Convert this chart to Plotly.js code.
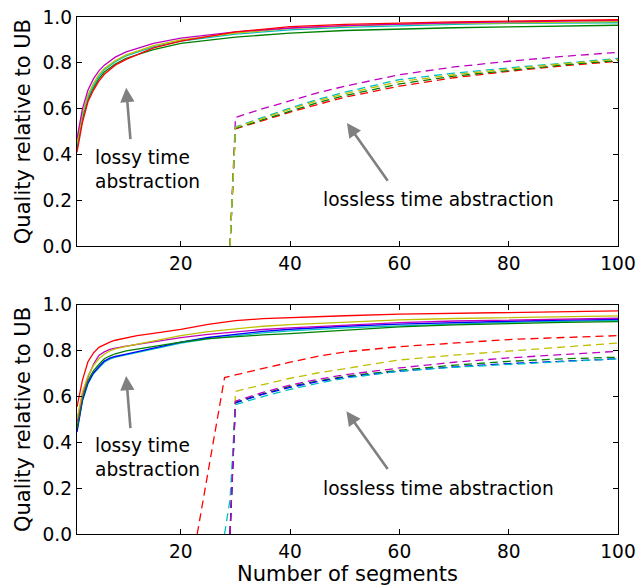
<!DOCTYPE html>
<html>
<head>
<meta charset="utf-8">
<script src="https://cdn.plot.ly/plotly-3.0.1.min.js"></script>
<style>html,body{margin:0;padding:0;background:#fff;}#chart{width:642px;height:588px;}</style>
</head>
<body>
<div id="chart"></div>
<script>
// ---------- Top panel: solid (lossy) ----------
const topSolidX = [1,2,3,4,5,6,8,10,15,20,30,40,50,60,70,80,90,100];
const topSolidMagenta = [0.47,0.60,0.68,0.73,0.765,0.79,0.825,0.848,0.885,0.908,0.935,0.952,0.962,0.970,0.975,0.979,0.982,0.985];
const topSolidYellow  = [0.45,0.58,0.66,0.71,0.75,0.775,0.81,0.835,0.875,0.900,0.930,0.950,0.960,0.968,0.972,0.975,0.978,0.980];
const topSolidCyan    = [0.44,0.57,0.65,0.70,0.74,0.77,0.805,0.83,0.87,0.895,0.925,0.944,0.955,0.963,0.968,0.972,0.975,0.975];
const topSolidGreen   = [0.43,0.56,0.64,0.69,0.73,0.76,0.795,0.82,0.858,0.885,0.912,0.930,0.941,0.948,0.953,0.957,0.961,0.964];
const topSolidRed     = [0.41,0.54,0.63,0.68,0.72,0.75,0.79,0.815,0.865,0.895,0.935,0.958,0.968,0.975,0.979,0.982,0.985,0.988];

// ---------- Top panel: dashed (lossless) ----------
const topDashX = [29,30,35,40,45,50,60,70,80,90,100];
const topDashMagenta = [0,0.562,0.600,0.636,0.669,0.698,0.748,0.782,0.807,0.828,0.846];
const topDashCyan    = [0,0.520,0.562,0.603,0.640,0.672,0.727,0.755,0.778,0.800,0.819];
const topDashGreen   = [0,0.514,0.552,0.590,0.626,0.657,0.708,0.742,0.768,0.791,0.810];
const topDashRed     = [0,0.512,0.548,0.585,0.618,0.650,0.698,0.735,0.763,0.787,0.807];
const topDashYellow  = [0,0.518,0.558,0.598,0.634,0.665,0.718,0.748,0.773,0.796,0.815];

// ---------- Bottom panel: solid (lossy) ----------
const botSolidX = [1,2,3,4,5,6,7,8,10,12,15,20,25,30,35,40,50,60,70,80,90,100];
const botSolidCyan    = [0.455,0.58,0.655,0.70,0.725,0.75,0.763,0.772,0.782,0.792,0.808,0.833,0.852,0.866,0.878,0.887,0.900,0.909,0.918,0.924,0.929,0.933];
const botSolidBlue    = [0.445,0.585,0.66,0.703,0.73,0.755,0.768,0.775,0.785,0.795,0.812,0.838,0.858,0.872,0.885,0.894,0.907,0.916,0.924,0.929,0.934,0.937];
const botSolidGreen   = [0.46,0.595,0.67,0.712,0.74,0.765,0.777,0.787,0.80,0.808,0.820,0.838,0.853,0.862,0.869,0.875,0.891,0.904,0.913,0.919,0.924,0.927];
const botSolidMagenta = [0.49,0.61,0.685,0.74,0.78,0.795,0.806,0.812,0.820,0.828,0.840,0.857,0.872,0.883,0.893,0.900,0.913,0.923,0.930,0.935,0.939,0.942];
const botSolidYellow  = [0.50,0.62,0.69,0.735,0.765,0.785,0.80,0.808,0.819,0.828,0.843,0.866,0.884,0.897,0.907,0.914,0.926,0.935,0.941,0.945,0.949,0.952];
const botSolidRed     = [0.555,0.672,0.752,0.790,0.815,0.828,0.838,0.846,0.857,0.866,0.876,0.893,0.915,0.932,0.940,0.945,0.953,0.960,0.964,0.968,0.971,0.974];

// ---------- Bottom panel: dashed (lossless) ----------
const botDashRedX = [23,28,30,35,40,45,50,60,70,80,90,100];
const botDashRed  = [0,0.683,0.695,0.724,0.750,0.776,0.795,0.818,0.835,0.849,0.858,0.866];
const botDashX = [29,30,35,40,45,50,60,70,80,90,100];
const botDashYellow  = [0,0.623,0.652,0.680,0.703,0.722,0.760,0.781,0.798,0.818,0.834];
const botDashMagenta = [0,0.580,0.618,0.650,0.675,0.695,0.725,0.750,0.769,0.785,0.798];
const botDashGreen   = [0,0.575,0.612,0.645,0.668,0.688,0.715,0.737,0.754,0.765,0.772];
const botDashBlue    = [0,0.573,0.610,0.640,0.665,0.684,0.711,0.730,0.744,0.756,0.765];
const botDashCyanX = [28,29,30,35,40,45,50,60,70,80,90,100];
const botDashCyan  = [0,0.15,0.565,0.600,0.631,0.658,0.680,0.711,0.728,0.740,0.753,0.765];

const xTicks = [20,40,60,80,100];
const yTicks = [0,0.2,0.4,0.6,0.8,1.0];

const C = {b:'#0000ff', g:'#008000', r:'#ff0000', c:'#00bfbf', m:'#bf00bf', y:'#bfbf00'};
const LW = 1.3;
const DASH = '8px,5px';

function tr(x, y, color, dashed, xa, ya) {
  return {x:x, y:y, type:'scatter', mode:'lines', xaxis:xa, yaxis:ya,
    line:{color:color, width:LW, dash: dashed ? DASH : 'solid'}, hoverinfo:'skip'};
}

const data = [
  // top solid
  tr(topSolidX, topSolidGreen, C.g, false, 'x', 'y'),
  tr(topSolidX, topSolidCyan, C.c, false, 'x', 'y'),
  tr(topSolidX, topSolidYellow, C.y, false, 'x', 'y'),
  tr(topSolidX, topSolidMagenta, C.m, false, 'x', 'y'),
  tr(topSolidX, topSolidRed, C.r, false, 'x', 'y'),
  // top dashed
  tr(topDashX, topDashMagenta, C.m, true, 'x', 'y'),
  tr(topDashX, topDashRed, C.r, true, 'x', 'y'),
  tr(topDashX, topDashGreen, C.g, true, 'x', 'y'),
  tr(topDashX, topDashCyan, C.c, true, 'x', 'y'),
  tr(topDashX, topDashYellow, C.y, true, 'x', 'y'),
  // bottom solid
  tr(botSolidX, botSolidCyan, C.c, false, 'x2', 'y2'),
  tr(botSolidX, botSolidBlue, C.b, false, 'x2', 'y2'),
  tr(botSolidX, botSolidGreen, C.g, false, 'x2', 'y2'),
  tr(botSolidX, botSolidMagenta, C.m, false, 'x2', 'y2'),
  tr(botSolidX, botSolidYellow, C.y, false, 'x2', 'y2'),
  tr(botSolidX, botSolidRed, C.r, false, 'x2', 'y2'),
  // bottom dashed
  tr(botDashRedX, botDashRed, C.r, true, 'x2', 'y2'),
  tr(botDashX, botDashYellow, C.y, true, 'x2', 'y2'),
  tr(botDashX, botDashGreen, C.g, true, 'x2', 'y2'),
  tr(botDashX, botDashBlue, C.b, true, 'x2', 'y2'),
  tr(botDashCyanX, botDashCyan, C.c, true, 'x2', 'y2'),
  tr(botDashX, botDashMagenta, C.m, true, 'x2', 'y2')
];

const FONT = 'DejaVu Sans, sans-serif';
function xax(anchor, domainTitle) {
  const a = {anchor:anchor, range:[1,100], tickvals:xTicks, ticktext:xTicks.map(String),
    showline:true, linecolor:'#000', linewidth:1.2, mirror:'ticks', ticks:'inside', ticklen:5, tickwidth:1,
    tickcolor:'#000', showgrid:false, zeroline:false, automargin:false,
    tickfont:{family:FONT, size:18.6, color:'#000'}};
  if (domainTitle) a.title = {text:domainTitle, font:{family:FONT, size:21, color:'#000'}, standoff:2};
  return a;
}
function yax(anchor, domain) {
  return {anchor:anchor, domain:domain, range:[0,1], tickvals:yTicks, ticktext:yTicks.map(v=>v.toFixed(1)),
    showline:true, linecolor:'#000', linewidth:1.2, mirror:'ticks', ticks:'inside', ticklen:5, tickwidth:1,
    tickcolor:'#000', showgrid:false, zeroline:false, automargin:false,
    tickfont:{family:FONT, size:18.6, color:'#000'},
    title:{text:'Quality relative to UB', font:{family:FONT, size:21, color:'#000'}, standoff:6}};
}

const GRAY = '#808080';
function arrow(xr, yr, x, y, ax, ay) {
  return {xref:xr, yref:yr, axref:xr, ayref:yr, x:x, y:y, ax:ax, ay:ay, text:'',
    showarrow:true, arrowhead:2, arrowsize:1.1, arrowwidth:2.6, arrowcolor:GRAY};
}
function label(xr, yr, x, y, text) {
  return {xref:xr, yref:yr, x:x, y:y, text:text, showarrow:false, xanchor:'left', yanchor:'middle',
    align:'left', font:{family:FONT, size:18.6, color:'#000'}};
}

const layout = {
  width:642, height:588,
  margin:{l:77, r:24, t:17, b:54},
  paper_bgcolor:'#fff', plot_bgcolor:'#fff',
  showlegend:false,
  xaxis: xax('y', null),
  yaxis: yax('x', [0.5567, 1]),
  xaxis2: xax('y2', 'Number of segments'),
  yaxis2: yax('x2', [0, 0.443]),
  annotations: [
    arrow('x','y', 10.0, 0.691, 10.8, 0.461),
    arrow('x','y', 50.4, 0.538, 58.05, 0.279),
    label('x','y', 3.84, 0.334, 'lossy time<br>abstraction'),
    label('x','y', 45.56, 0.203, 'lossless time abstraction'),
    arrow('x2','y2', 10.0, 0.690, 10.8, 0.456),
    arrow('x2','y2', 50.3, 0.536, 58.05, 0.277),
    label('x2','y2', 3.84, 0.334, 'lossy time<br>abstraction'),
    label('x2','y2', 45.56, 0.198, 'lossless time abstraction')
  ]
};

Plotly.newPlot('chart', data, layout, {staticPlot:true, displayModeBar:false});
</script>
</body>
</html>
